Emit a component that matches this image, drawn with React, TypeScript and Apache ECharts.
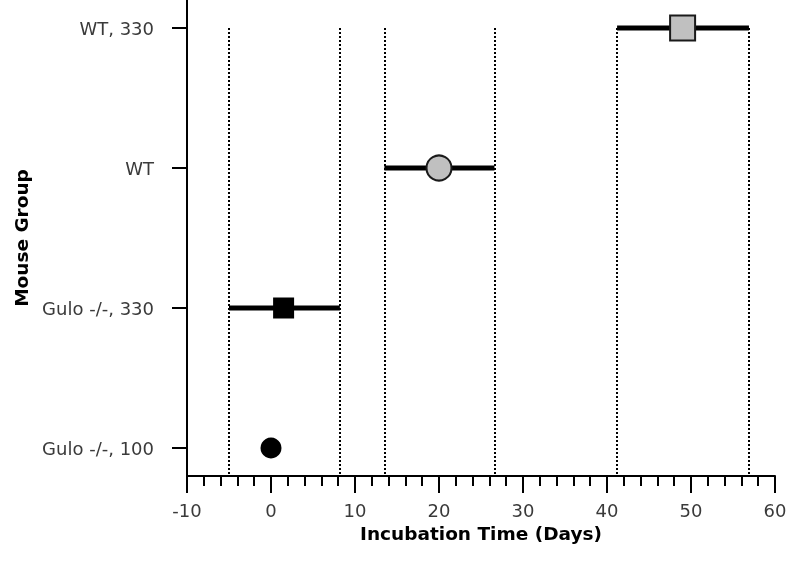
import React, { useEffect, useRef } from "react";
import * as echarts from "echarts";

// Groups bottom-to-top (y positions 0..3)
const groups = ["Gulo -/-, 100", "Gulo -/-, 330", "WT", "WT, 330"];
const centers = [0, 1.5, 20, 49];
const lows: (number | null)[] = [null, -5, 13.5, 41.2];
const highs: (number | null)[] = [null, 8.2, 26.6, 56.9];
const markerShapes = ["circle", "rect", "circle", "rect"];
const markerColors = ["#000000", "#000000", "#c0c0c0", "#c0c0c0"];
const markerSizes = [21, 21, 25, 25];
const xTicks = [-10, 0, 10, 20, 30, 40, 50, 60];

const FONT = "DejaVu Sans";

export default function App() {
  const ref = useRef<HTMLDivElement>(null);
  useEffect(() => {
    if (!ref.current) return;
    const chart = echarts.init(ref.current, null, { renderer: "svg" });
    const yTop = groups.length - 1;
    const yMin = -0.2;

    const dotLines: any[] = [];
    const barSeries: any[] = [];
    groups.forEach((g, i) => {
      const lo = lows[i];
      const hi = highs[i];
      if (lo === null || hi === null) return;
      dotLines.push([{ coord: [lo, yTop] }, { coord: [lo, yMin] }]);
      dotLines.push([{ coord: [hi, yTop] }, { coord: [hi, yMin] }]);
      barSeries.push({
        type: "line",
        name: g + " range",
        data: [
          [lo, i],
          [hi, i],
        ],
        symbol: "none",
        lineStyle: { color: "#000", width: 5, cap: "butt" },
        z: 3,
        silent: true,
      });
    });

    const option: any = {
      animation: false,
      grid: { left: 187, right: 25, top: 0, bottom: 86 },
      xAxis: {
        type: "value",
        min: xTicks[0],
        max: xTicks[xTicks.length - 1],
        interval: 10,
        name: "Incubation Time (Days)",
        nameLocation: "middle",
        nameGap: 47,
        nameTextStyle: { fontFamily: FONT, fontWeight: "bold", fontSize: 18.5, color: "#000" },
        axisLine: { show: true, onZero: false, lineStyle: { color: "#000", width: 2 } },
        axisTick: { show: true, length: 17, lineStyle: { color: "#000", width: 2 } },
        minorTick: { show: true, splitNumber: 5, length: 10, lineStyle: { color: "#000", width: 2 } },
        axisLabel: { fontFamily: FONT, fontSize: 18, color: "#3a3a3a", margin: 25 },
        splitLine: { show: false },
        minorSplitLine: { show: false },
      },
      yAxis: {
        type: "value",
        min: yMin,
        max: 3.2,
        name: "Mouse Group",
        nameLocation: "middle",
        nameRotate: 90,
        nameGap: 154,
        nameTextStyle: { fontFamily: FONT, fontWeight: "bold", fontSize: 18.5, color: "#000" },
        axisLine: { show: true, onZero: false, lineStyle: { color: "#000", width: 2 } },
        axisTick: {
          show: true,
          length: 15,
          lineStyle: { color: "#000", width: 2 },
          customValues: groups.map((_, i) => i),
        },
        axisLabel: {
          fontFamily: FONT,
          fontSize: 18,
          color: "#3a3a3a",
          margin: 33,
          customValues: groups.map((_, i) => i),
          formatter: (v: number) => groups[Math.round(v)] ?? "",
        },
        splitLine: { show: false },
      },
      series: [
        {
          type: "scatter",
          name: "guides",
          data: [],
          silent: true,
          markLine: {
            silent: true,
            symbol: ["none", "none"],
            label: { show: false },
            lineStyle: { color: "#000", width: 2, type: [2, 2], opacity: 1 },
            data: dotLines,
            z: 1,
          },
          z: 1,
        },
        ...barSeries,
        {
          type: "scatter",
          name: "centers",
          z: 5,
          data: groups.map((g, i) => ({
            value: [centers[i], i],
            symbol: markerShapes[i],
            symbolSize: markerSizes[i],
            itemStyle: {
              color: markerColors[i],
              opacity: 1,
              borderColor: "#1a1a1a",
              borderWidth: markerColors[i] === "#000000" ? 0 : 2,
            },
          })),
        },
      ],
    };
    chart.setOption(option);
    return () => chart.dispose();
  }, []);
  return (
    <div
      ref={ref}
      style={{ position: "fixed", left: 0, top: 0, width: 800, height: 562 }}
    />
  );
}
